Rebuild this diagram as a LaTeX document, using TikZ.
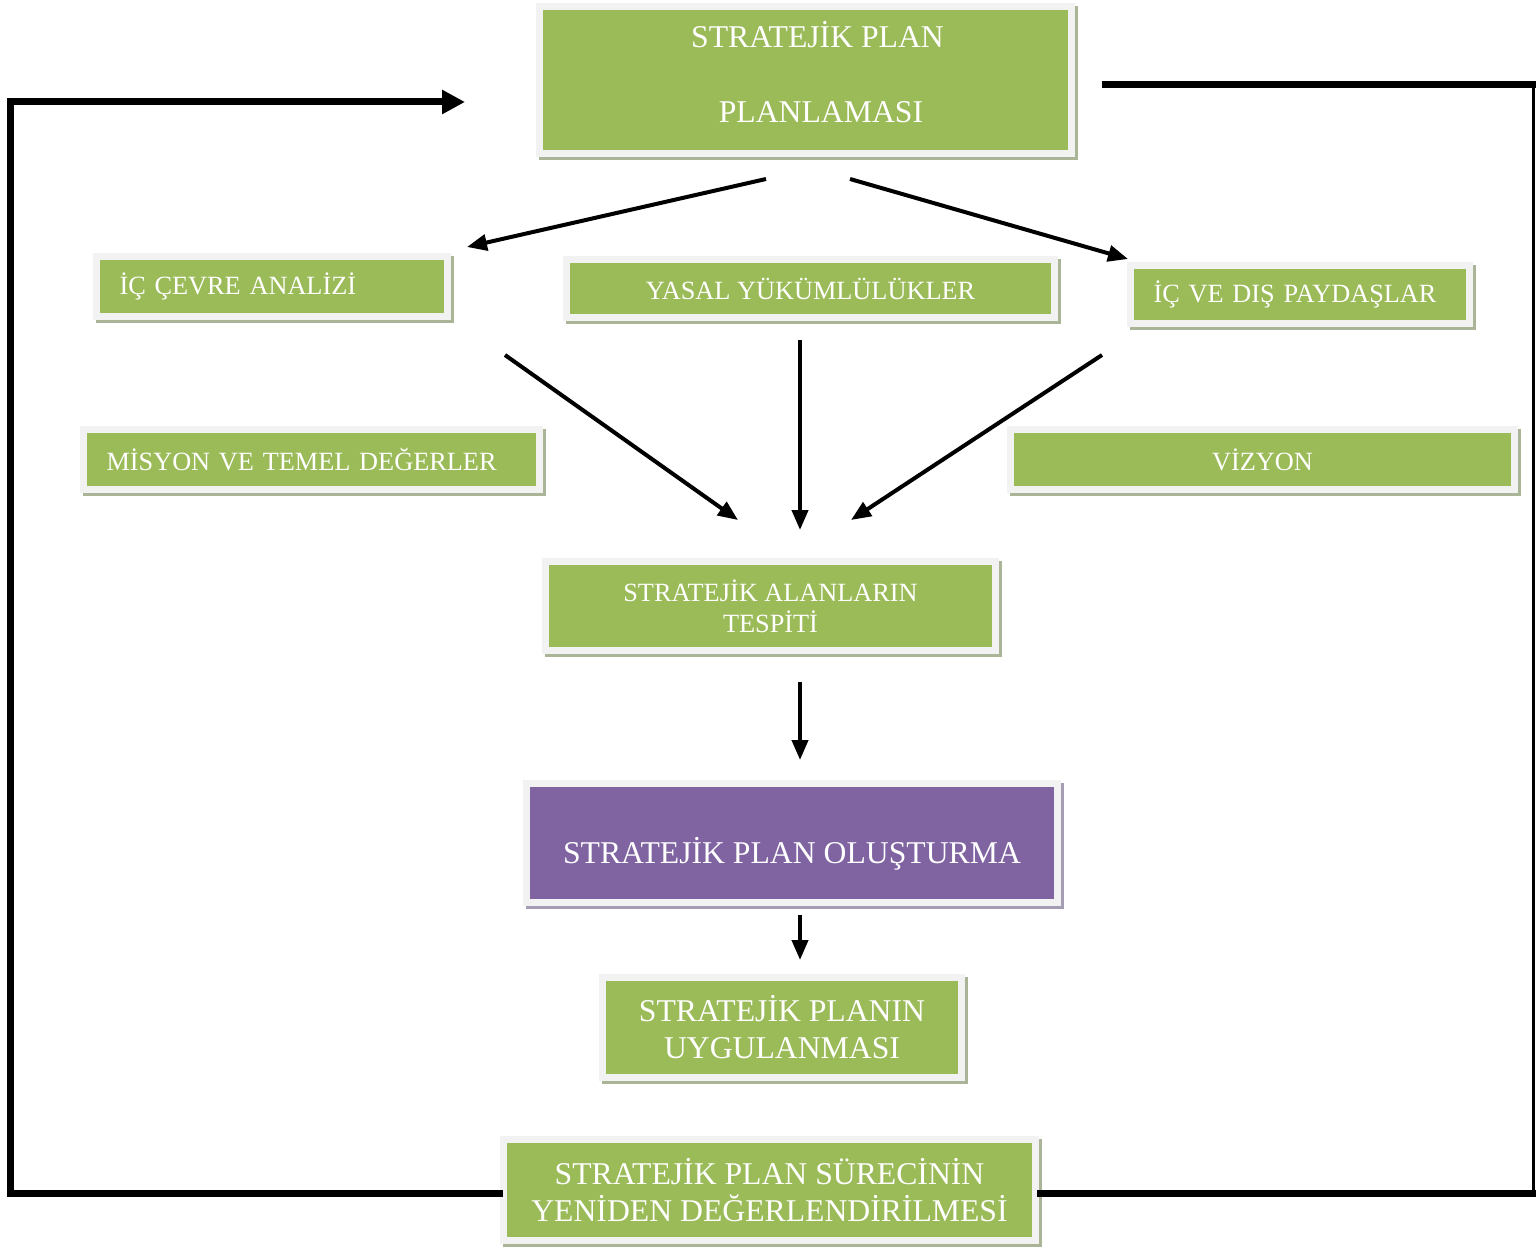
\documentclass[tikz,border=0pt]{standalone}
\usepackage{fontspec}
\setmainfont{Liberation Serif}
\usetikzlibrary{arrows.meta}

\definecolor{boxgreen}{HTML}{9BBB59}
\definecolor{framegray}{HTML}{F2F2F2}
\definecolor{shadegreen}{HTML}{AAB597}
\definecolor{boxpurple}{HTML}{8064A2}
\definecolor{shadepurple}{HTML}{A59DB3}

\newcommand{\bigtxt}{\fontsize{31.7}{37}\selectfont}
\newcommand{\smalltxt}{\fontsize{26.3}{31}\selectfont}

\tikzset{
  box/.style={draw=framegray, line width=7pt, text=white, inner sep=0pt, align=center},
  greenbox/.style={box, fill=boxgreen,
    preaction={draw=shadegreen, fill=shadegreen, line width=7pt,
      transform canvas={xshift=3pt, yshift=-3pt}}},
  purplebox/.style={box, fill=boxpurple,
    preaction={draw=shadepurple, fill=shadepurple, line width=7pt,
      transform canvas={xshift=3pt, yshift=-3pt}}},
  leftbox/.style={greenbox, align=left, inner xsep=23pt},
  arr/.style={-{Triangle[length=20pt, width=16pt]}, line width=4pt},
  loopline/.style={line width=7pt},
}

\begin{document}
\begin{tikzpicture}[x=1pt, y=-1pt]
    \useasboundingbox (0,0) rectangle (1536,1252);

    % boxes
    \node[greenbox, minimum width=532pt, minimum height=147pt, text depth=16pt, font=\bigtxt] (plan) at (805.5,80) {\hspace*{24pt}STRATEJİK PLAN\\[38pt]\hspace*{31pt}PLANLAMASI};
    \node[leftbox, text width=305pt, minimum height=60pt, font=\smalltxt] (icc) at (272,286.5) {İÇ ÇEVRE ANALİZİ};
    \node[greenbox, minimum width=488pt, minimum height=58pt, font=\smalltxt] (yasal) at (810.5,288.5) {YASAL YÜKÜMLÜLÜKLER};
    \node[leftbox, text width=293pt, minimum height=58pt, font=\smalltxt] (payd) at (1300,294.5) {İÇ VE DIŞ PAYDAŞLAR};
    \node[leftbox, text width=410pt, minimum height=60pt, font=\smalltxt] (misy) at (311.5,459.5) {MİSYON VE TEMEL DEĞERLER};
    \node[greenbox, minimum width=504pt, minimum height=60pt, font=\smalltxt] (vizy) at (1262.5,459.5) {VİZYON};
    \node[greenbox, minimum width=450pt, minimum height=89pt, font=\smalltxt] (alan) at (770.5,606) {STRATEJİK ALANLARIN\\TESPİTİ};
    \node[purplebox, minimum width=531pt, minimum height=119pt, text height=41pt, text depth=0pt, font=\bigtxt] (olus) at (792,843) {STRATEJİK PLAN OLUŞTURMA};
    \node[greenbox, minimum width=359pt, minimum height=100pt, font=\bigtxt] (uygu) at (782,1027.5) {STRATEJİK PLANIN\\UYGULANMASI};
    \node[greenbox, minimum width=532pt, minimum height=101pt, font=\bigtxt] (yeni) at (769.5,1190) {STRATEJİK PLAN SÜRECİNİN\\YENİDEN DEĞERLENDİRİLMESİ};

    % arrow ends
    \coordinate (pl) at (766,179);
    \coordinate (pr) at (850,179);
    \coordinate (iccin) at (467,247);
    \coordinate (paydin) at (1128,259);
    \coordinate (iccout) at (505,355);
    \coordinate (yasout) at (800,340);
    \coordinate (paydout) at (1102,355);
    \coordinate (alinl) at (738,520);
    \coordinate (alinm) at (800,530);
    \coordinate (alinr) at (851,520);
    \coordinate (alout) at (800,682);
    \coordinate (olin) at (800,760);
    \coordinate (olout) at (800,915);
    \coordinate (uyin) at (800,960);

    \draw (pl) edge[arr] (iccin);
    \draw (pr) edge[arr] (paydin);
    \draw (iccout) edge[arr] (alinl);
    \draw (yasout) edge[arr] (alinm);
    \draw (paydout) edge[arr] (alinr);
    \draw (alout) edge[arr] (olin);
    \draw (olout) edge[arr] (uyin);

    % feedback loop
    \coordinate (lt) at (10,102);
    \coordinate (loopin) at (465,102);
    \coordinate (rb) at (1536,1193);
    \coordinate (rbv) at (1533.5,1193);
    \coordinate (rtv) at (1533.5,85);
    \coordinate (rt) at (1536,85);
    \coordinate (loopout) at (1102,85);
    \coordinate (yw) at (503,1193);
    \coordinate (ye) at (1037,1193);

    \draw[loopline, -{Triangle[length=23pt, width=23pt]}] (yw) -| (lt) -- (loopin);
    \draw[loopline] (ye) -- (rb);
    \draw[line width=2.5pt] (rbv) -- (rtv);
    \draw[loopline] (rt) -- (loopout);
\end{tikzpicture}
\end{document}
